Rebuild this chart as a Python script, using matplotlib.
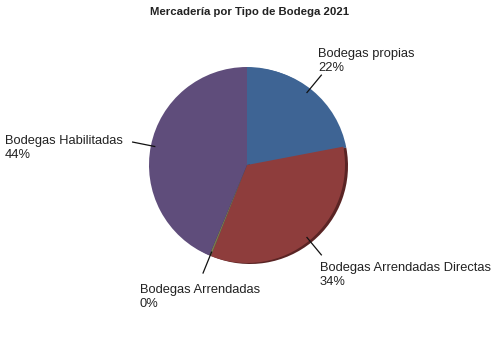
import numpy as np
import matplotlib.pyplot as plt

categories = ['Bodegas propias', 'Bodegas Arrendadas Directas', 'Bodegas Arrendadas', 'Bodegas Habilitadas']
values = [22.0, 34.0, 0.3, 43.7]
colors = ['#3e6494', '#8e3d3c', '#7a7a4a', '#5f4d7b']
shadow_colors = ['#3e6494', '#5a2424', '#4a4a2a', '#3d3150']

# label text anchor positions (pixels from top-left)
label_pos = [(318, 61), (320, 275), (140, 297), (5, 148)]

plt.rcParams['font.family'] = ['Liberation Sans', 'DejaVu Sans']

fig = plt.figure(figsize=(5, 3.5), dpi=100)
ax = fig.add_axes([0, 0, 1, 1])

cx, cy, r = 247, 350 - 165, 98

# shadow pie, slightly offset
ax.pie(values, colors=shadow_colors, startangle=90, counterclock=False,
       center=(cx + 3, cy - 1), radius=r, frame=True,
       wedgeprops=dict(linewidth=0))
ax.pie(values, colors=colors, startangle=90, counterclock=False,
       center=(cx, cy), radius=r, frame=True,
       wedgeprops=dict(linewidth=0))
ax.set_xlim(0, 500)
ax.set_ylim(0, 350)
ax.set_aspect('equal')
ax.axis('off')

total = sum(values)
start = 90.0
for i, (cat, v) in enumerate(zip(categories, values)):
    ang = np.deg2rad(start - v / total * 360 / 2)
    start -= v / total * 360
    x0 = cx + 0.96 * r * np.cos(ang)
    y0 = cy + 0.96 * r * np.sin(ang)
    x1 = cx + 1.19 * r * np.cos(ang)
    y1 = cy + 1.19 * r * np.sin(ang)
    ax.plot([x0, x1], [y0, y1], color='#111111', lw=0.9)
    tx, ty = label_pos[i]
    ax.text(tx, 350 - ty, '%s\n%.0f%%' % (cat, v), fontsize=9.3,
            color='#222222', ha='left', va='center', linespacing=1.22)

fig.text(0.5, 1 - 12 / 350, 'Mercadería por Tipo de Bodega 2021',
         ha='center', va='center', fontsize=8.2, fontweight='bold', color='#222222')

fig.savefig('out.png', dpi=100)
